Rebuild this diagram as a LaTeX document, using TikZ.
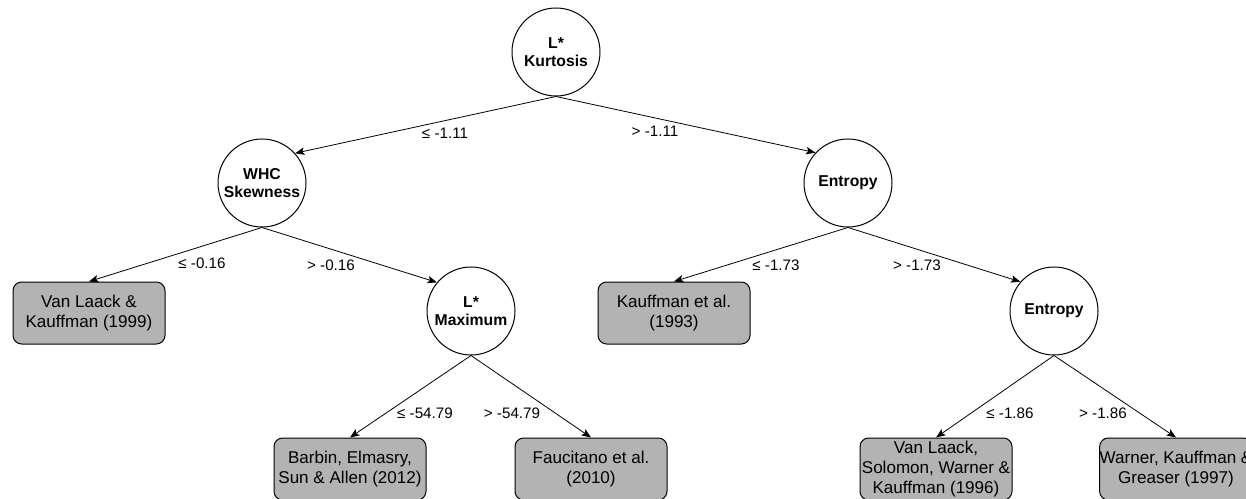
\documentclass[tikz,border=0pt]{standalone}
\usepackage{fontspec}
\setmainfont{Liberation Sans}
\usetikzlibrary{arrows.meta}
\definecolor{leafgray}{RGB}{179,179,179}

\begin{document}
\begin{tikzpicture}[x=0.75pt, y=-0.75pt,
  split/.style={circle, draw, line width=0.75pt, minimum size=66pt, inner sep=0pt,
    align=center, font=\fontsize{11.8}{13.8}\selectfont\bfseries},
  leaf/.style={rectangle, rounded corners=6.5pt, draw, fill=leafgray, line width=0.75pt,
    minimum width=114pt, minimum height=46.5pt, inner sep=0pt, align=center,
    font=\fontsize{12.8}{15}\selectfont},
  cond/.style={font=\fontsize{11.4}{13}\selectfont, inner sep=0pt},
  branch/.style={-{Stealth[length=7pt, width=5.5pt, inset=1.5pt]}, line width=0.6pt}]
  \useasboundingbox (0,0) rectangle (1246,499);

  \node[split] (kurt) at (556,52) {L*\\Kurtosis};
  \node[split] (whc) at (262,183) {WHC\\Skewness};
  \node[split] (ent1) at (848,183) {Entropy};
  \node[split] (lmax) at (471,311) {L*\\Maximum};
  \node[split] (ent2) at (1054,311) {Entropy};

  \node[leaf] (vlk) at (89,313) {Van Laack \&\\Kauffman (1999)};
  \node[leaf] (kau) at (674,313) {Kauffman et al.\\(1993)};
  \node[leaf] (bar) at (350,469) {Barbin, Elmasry,\\Sun \& Allen (2012)};
  \node[leaf] (fau) at (591,469) {Faucitano et al.\\(2010)};
  \node[leaf] (vls) at (936,469) {Van Laack,\\Solomon, Warner \&\\Kauffman (1996)};
  \node[leaf] (wkg) at (1176,469) {Warner, Kauffman \&\\Greaser (1997)};

  \draw[branch] (kurt.south) -- (whc.42);
  \draw[branch] (kurt.south) -- (ent1.137);
  \draw[branch] (whc.south) -- (vlk.north);
  \draw[branch] (whc.south) -- (lmax.140);
  \draw[branch] (ent1.south) -- (kau.north);
  \draw[branch] (ent1.south) -- (ent2.139);
  \draw[branch] (lmax.south) -- (bar.north);
  \draw[branch] (lmax.south) -- (fau.north);
  \draw[branch] (ent2.south) -- (vls.north);
  \draw[branch] (ent2.south) -- (wkg.north);

  \node[cond] (c1) at (445,133) {≤ -1.11};
  \node[cond] (c2) at (655,131) {> -1.11};
  \node[cond] (c3) at (202,263) {≤ -0.16};
  \node[cond] (c4) at (331,265) {> -0.16};
  \node[cond] (c5) at (776,265) {≤ -1.73};
  \node[cond] (c6) at (917,265) {> -1.73};
  \node[cond] (c7) at (425,413) {≤ -54.79};
  \node[cond] (c8) at (512,413) {> -54.79};
  \node[cond] (c9) at (1010,413) {≤ -1.86};
  \node[cond] (c10) at (1103,413) {> -1.86};
\end{tikzpicture}
\end{document}
